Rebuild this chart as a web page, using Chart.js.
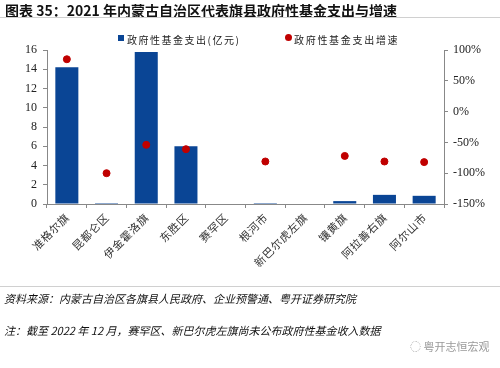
<!DOCTYPE html>
<html>
<head>
<meta charset="utf-8">
<script src="https://cdn.jsdelivr.net/npm/chart.js@4/dist/chart.umd.min.js"></script>
<style>
  body { margin: 0; background: #fff; }
  #wrap { position: relative; width: 500px; height: 368px; overflow: hidden; font-family: "Noto Sans CJK SC", sans-serif; }
  #title { position: absolute; left: 5px; top: 0px; font-size: 14px; font-weight: bold; color: #111; white-space: nowrap; }
  .rule { position: absolute; left: 0; width: 500px; height: 1px; background: #d0d0d0; }
  #legend { position: absolute; top: 32px; left: 0; width: 500px; font-size: 10px; color: #222; }
  #legend span { position: absolute; white-space: nowrap; }
  .note { position: absolute; left: 4px; font-size: 11px; font-style: italic; color: #111; white-space: nowrap; }
  #wm { position: absolute; left: 410px; top: 338px; font-size: 11px; color: #999; white-space: nowrap; }
  canvas { position: absolute; left: 0; top: 0; }
</style>
</head>
<body>
<div id="wrap">
  <canvas id="c" width="500" height="368"></canvas>
  <div id="title">图表 35：2021 年内蒙古自治区代表旗县政府性基金支出与增速</div>
  <div class="rule" style="top:17px"></div>
  <div id="legend">
    <span style="left:118px;top:3px;width:6px;height:6px;background:#0A4595"></span>
    <span style="left:127px;top:0;letter-spacing:1.5px">政府性基金支出(亿元)</span>
    <span style="left:285px;top:2px;width:7px;height:7px;border-radius:50%;background:#C00000"></span>
    <span style="left:294px;top:0;letter-spacing:1.7px">政府性基金支出增速</span>
  </div>
  <div class="rule" style="top:286px"></div>
  <div class="note" style="top:290px">资料来源：内蒙古自治区各旗县人民政府、企业预警通、粤开证券研究院</div>
  <div class="note" style="top:322px">注：截至 2022 年 12 月，赛罕区、新巴尔虎左旗尚未公布政府性基金收入数据</div>
  <div id="wm">◌ 粤开志恒宏观</div>
</div>
<script>
// 数据
const categories = ["准格尔旗", "昆都仑区", "伊金霍洛旗", "东胜区", "赛罕区", "根河市", "新巴尔虎左旗", "镶黄旗", "阿拉善右旗", "阿尔山市"];
const spending = [14.2, 0.1, 15.8, 6.0, 0, 0.1, 0, 0.3, 0.95, 0.85];
const growth = [85, -100, -54, -61, null, -81, null, -72, -81, -82];
const leftTicks = [0, 2, 4, 6, 8, 10, 12, 14, 16];
const rightTicks = [-150, -100, -50, 0, 50, 100];

const serif = "'Liberation Serif', 'Times New Roman', serif";
const axisColor = "#888";

new Chart(document.getElementById("c"), {
    type: "bar",
    data: {
        labels: categories,
        datasets: [
            {
                type: "line",
                label: "政府性基金支出增速",
                data: growth,
                yAxisID: "y2",
                showLine: false,
                pointRadius: 3.5,
                pointBackgroundColor: "#C00000",
                pointBorderColor: "#C00000",
                order: 0,
            },
            {
                label: "政府性基金支出(亿元)",
                data: spending,
                yAxisID: "y",
                backgroundColor: "#0A4595",
                barPercentage: 0.58,
                categoryPercentage: 1,
                order: 1,
            },
        ],
    },
    options: {
        responsive: false,
        animation: false,
        layout: { padding: { top: 50, bottom: 89, left: 0, right: 0 } },
        plugins: { legend: { display: false }, tooltip: { enabled: false } },
        scales: {
            x: {
                offset: true,
                afterFit: (s) => { s.height = 75; },
                grid: { display: true, offset: true, drawOnChartArea: false, tickLength: 4, color: axisColor },
                border: { color: axisColor },
                ticks: {
                    minRotation: 45, maxRotation: 45,
                    color: "#333",
                    font: { family: "'Noto Sans CJK SC'", size: 11 },
                    padding: 3,
                    // 字间加细空格，模拟原图的宋体字距
                    callback: function (v, i) { return categories[i].split("").join("\u200A"); },
                },
            },
            y: {
                position: "left",
                min: 0, max: 16,
                afterFit: (s) => { s.width = 47; },
                afterBuildTicks: (s) => { s.ticks = leftTicks.map((v) => ({ value: v })); },
                grid: { drawOnChartArea: false, tickLength: 4, color: axisColor },
                border: { color: axisColor },
                ticks: { color: "#222", font: { family: serif, size: 12 }, padding: 6 },
            },
            y2: {
                position: "right",
                min: -150, max: 100,
                afterFit: (s) => { s.width = 56; },
                afterBuildTicks: (s) => { s.ticks = rightTicks.map((v) => ({ value: v })); },
                grid: { drawOnChartArea: false, tickLength: 4, color: axisColor },
                border: { color: axisColor },
                ticks: { color: "#222", font: { family: serif, size: 12 }, padding: 5, callback: (v) => v + "%" },
            },
        },
    },
});
</script>
</body>
</html>
